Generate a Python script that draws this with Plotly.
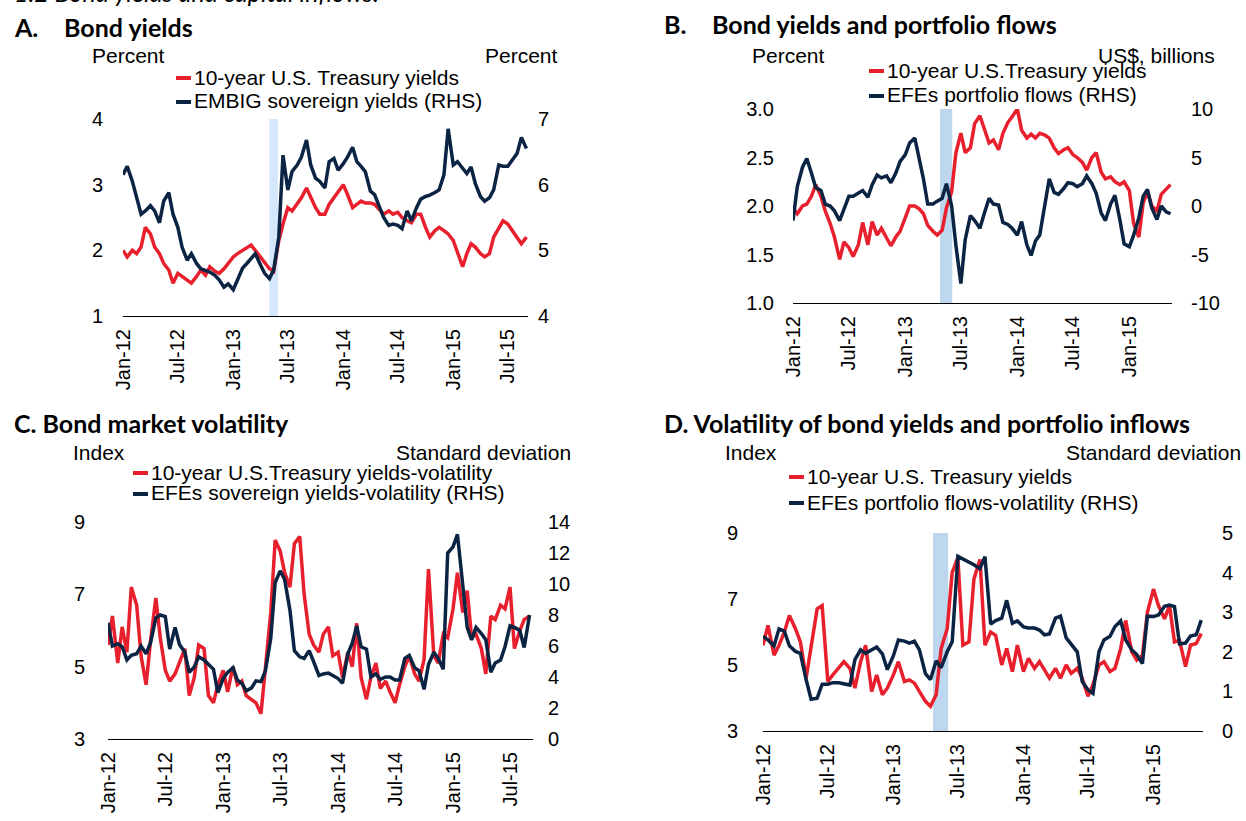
import pandas as pd
import plotly.graph_objects as go

W, H = 1246, 821
RED = "#E8202E"
NAVY = "#0B2443"
FONT = "Arial, 'Liberation Sans', sans-serif"
TITLE_FONT = "Lato, 'Open Sans', sans-serif"

# ---- Panel A: bond yields (semi-monthly) ----
a_ust = [2.0, 1.9, 2.0, 1.95, 2.05, 2.35, 2.25, 2.05, 1.95, 1.8,
         1.7, 1.5, 1.65, 1.6, 1.55, 1.5, 1.6, 1.7, 1.62, 1.75,
         1.68, 1.65, 1.72, 1.8, 1.9, 1.95, 2.0, 2.05, 2.08, 2.0,
         1.9, 1.8, 1.72, 1.68, 2.15, 2.4, 2.65, 2.6, 2.7, 2.8,
         2.95, 2.8, 2.65, 2.55, 2.55, 2.7, 2.8, 2.9, 3.0, 2.85,
         2.65, 2.7, 2.75, 2.72, 2.72, 2.7, 2.62, 2.55, 2.6, 2.55,
         2.58, 2.5, 2.45, 2.42, 2.55, 2.55, 2.35, 2.2, 2.3, 2.35,
         2.3, 2.25, 2.15, 1.95, 1.75, 1.95, 2.1, 2.05, 1.95, 1.9,
         1.95, 2.2, 2.35, 2.45, 2.4, 2.3, 2.2, 2.1, 2.2]
a_embig = [6.15, 6.28, 6.05, 5.8, 5.55, 5.6, 5.68, 5.6, 5.42, 5.75,
           5.88, 5.55, 5.35, 5.05, 4.85, 4.95, 4.8, 4.72, 4.7, 4.67,
           4.62, 4.55, 4.44, 4.49, 4.4, 4.55, 4.73, 4.8, 4.88, 4.95,
           4.78, 4.65, 4.57, 4.7, 5.2, 6.45, 5.92, 6.2, 6.3, 6.42,
           6.68, 6.3, 6.1, 6.05, 5.95, 6.35, 6.4, 6.22, 6.32, 6.42,
           6.57, 6.35, 6.28, 6.2, 5.9, 5.85, 5.66, 5.5, 5.38, 5.4,
           5.38, 5.33, 5.6, 5.45, 5.65, 5.78, 5.82, 5.84, 5.88, 5.92,
           6.15, 6.85, 6.3, 6.35, 6.25, 6.17, 6.27, 6.02, 5.82, 5.75,
           5.8, 5.92, 6.3, 6.28, 6.28, 6.37, 6.48, 6.72, 6.55]

# ---- Panel B: yields and portfolio flows ----
b_ust = [1.98, 1.92, 2.0, 2.02, 2.1, 2.22, 2.1, 1.95, 1.82, 1.68,
         1.45, 1.63, 1.57, 1.48, 1.6, 1.83, 1.6, 1.84, 1.7, 1.77,
         1.67, 1.59, 1.68, 1.74, 1.88, 2.0, 2.0, 1.97, 1.92, 1.8,
         1.74, 1.7, 1.75, 1.98, 2.15, 2.55, 2.75, 2.55, 2.6, 2.85,
         2.93, 2.8, 2.65, 2.68, 2.58, 2.75, 2.86, 2.92, 3.0, 2.78,
         2.7, 2.74, 2.7, 2.75, 2.73, 2.7, 2.6, 2.54, 2.58, 2.6,
         2.53, 2.5, 2.45, 2.37, 2.5, 2.55, 2.35, 2.28, 2.3, 2.25,
         2.22, 2.25, 2.16, 1.82, 1.68, 2.03, 2.15, 2.0, 1.95, 2.12,
         2.17, 2.22]
b_flows = [-1.5, 2.0, 4.0, 4.9, 3.4, 1.9, 1.6, 0.2, 0.0, -0.5,
           -1.5, -0.4, 1.0, 1.0, 1.3, 1.6, 0.9, 2.2, 3.2, 2.9,
           3.1, 2.4, 3.4, 4.6, 5.3, 6.5, 7.0, 5.0, 2.8, 0.2,
           0.2, 0.5, 0.8, 2.3, 0.0, -4.1, -8.0, -3.5, -1.0, -1.5,
           -2.3, -0.8, 0.8, 0.2, 0.1, -1.7, -1.9, -2.3, -3.0, -1.6,
           -4.0, -5.1, -3.6, -3.0, 0.3, 2.8, 1.4, 1.2, 1.8, 2.4,
           2.3, 2.0, 2.3, 3.1, 2.3, 1.3, -0.7, -1.5, 0.2, 1.1,
           -1.4, -3.9, -4.2, -3.0, -1.2, 1.0, 1.7, -0.2, -1.4, 0.0,
           -0.6, -0.8]

# ---- Panel C: bond market volatility ----
c_ust = [5.6, 6.4, 5.1, 6.1, 5.4, 7.2, 6.7, 5.3, 4.5, 5.7,
         6.9, 5.8, 4.9, 4.6, 4.8, 5.1, 5.5, 4.2, 4.7, 5.6,
         5.5, 4.2, 4.0, 4.5, 4.9, 4.3, 5.0, 4.5, 4.6, 4.2,
         4.1, 4.0, 3.7, 5.0, 6.5, 8.5, 8.2, 7.6, 7.2, 8.4,
         8.6, 7.0, 5.9, 5.6, 5.4, 5.9, 6.1, 5.3, 5.4, 4.7,
         5.4, 5.0, 6.2, 4.7, 4.1, 4.7, 5.1, 4.4, 4.6, 4.3,
         4.0, 4.5, 5.0, 5.3, 4.8, 4.6, 5.2, 7.7, 5.3, 5.1,
         5.9, 5.8, 6.6, 7.6, 6.5, 7.1, 5.8, 5.9, 5.5, 4.8,
         6.4, 6.3, 6.7, 6.6, 7.2, 5.5, 6.0, 6.3, 6.4]
c_efe = [7.5, 6.0, 6.15, 5.95, 5.1, 5.4, 5.5, 6.0, 5.5, 6.2,
         7.8, 8.0, 7.9, 5.8, 7.2, 6.1, 5.6, 4.3, 4.65, 5.3,
         5.1, 4.85, 4.5, 3.0, 3.9, 4.3, 4.6, 3.8, 3.6, 3.1,
         3.3, 3.75, 3.7, 4.4, 6.5, 10.1, 10.85, 10.3, 8.3, 5.7,
         5.3, 5.2, 5.7, 5.0, 4.1, 4.2, 4.25, 4.1, 3.9, 3.6,
         5.5, 6.2, 7.3, 5.95, 5.8, 4.0, 4.2, 3.85, 4.0, 4.0,
         3.8, 3.8, 5.2, 5.4, 4.6, 4.4, 3.2, 4.8, 5.6, 5.2,
         4.5, 12.0, 12.4, 13.2, 10.0, 7.2, 6.4, 7.2, 6.8, 6.4,
         4.3, 4.9, 5.1, 5.95, 7.3, 7.2, 7.0, 5.9, 8.0]

# ---- Panel D: volatility of yields and portfolio inflows ----
d_ust = [5.6, 6.2, 5.3, 5.6, 6.0, 6.5, 6.1, 5.7, 4.6, 5.5,
         6.7, 6.8, 4.5, 4.7, 4.9, 5.1, 4.9, 4.3, 5.1, 5.6,
         4.2, 4.7, 4.1, 4.3, 4.7, 5.1, 4.5, 4.55, 4.45, 4.2,
         3.9, 3.75, 4.1, 5.5, 6.1, 7.8, 8.25, 5.6, 5.7, 7.6,
         8.2, 5.6, 6.0, 5.9, 5.0, 5.5, 4.8, 5.6, 4.8, 5.2,
         4.9, 5.1, 4.85, 4.6, 4.9, 4.6, 5.0, 4.75, 4.9, 4.6,
         4.05, 4.4, 5.0, 5.1, 4.8, 4.9, 5.5, 6.35, 5.4, 5.15,
         5.3, 6.6, 7.3, 6.8, 6.4, 6.8, 5.7, 5.75, 4.95, 5.6,
         5.65, 5.95]
d_flows = [2.39, 2.3, 2.15, 2.58, 2.52, 2.15, 2.01, 1.96, 1.3, 0.8,
           0.83, 1.18, 1.18, 1.22, 1.22, 1.2, 1.16, 1.8, 2.05, 1.96,
           2.05, 2.12, 1.95, 1.55, 1.9, 2.3, 2.27, 2.22, 2.27, 2.05,
           1.45, 1.3, 1.77, 1.6, 2.0, 2.25, 4.41, 4.35, 4.28, 4.2,
           4.1, 4.4, 2.7, 2.79, 2.85, 3.3, 2.72, 2.78, 2.63, 2.6,
           2.6, 2.55, 2.43, 2.45, 2.85, 2.9, 2.35, 2.2, 2.0, 1.25,
           1.04, 0.95, 2.0, 2.3, 2.39, 2.64, 2.78, 2.3, 2.05, 1.93,
           1.7, 2.9, 2.89, 2.93, 3.15, 3.18, 3.14, 2.2, 2.22, 2.4,
           2.43, 2.8]


def dates(n):
    return pd.date_range("2012-01-01", periods=n, freq="SMS")


def px(x):
    return x / W


def py(y):
    return 1 - y / H


fig = go.Figure()

panels = [
    dict(xa="x", ya="y", ya2="y2", xdom=(123, 528), ydom=(316, 119),
         xend="2015-09-06", left=(1, 4, 1, None), right=(4, 7, 1, None),
         red=a_ust, navy=a_embig, shade=("2013-05-01", "2013-05-29"),
         shade_col="#D4E7FB", lstand=19, rstand=9),
    dict(xa="x2", ya="y3", ya2="y4", xdom=(793, 1172), ydom=(303, 109),
         xend="2015-05-20", left=(1, 3, 0.5, ".1f"), right=(-10, 10, 5, None),
         red=b_ust, navy=b_flows, shade=("2013-04-24", "2013-06-03"),
         shade_col="#BDD7EE", lstand=18, rstand=18),
    dict(xa="x3", ya="y5", ya2="y6", xdom=(108, 533), ydom=(739, 522),
         xend="2015-09-12", left=(3, 9, 2, None), right=(0, 14, 2, None),
         red=c_ust, navy=c_efe, shade=None, shade_col=None,
         lstand=22, rstand=14),
    dict(xa="x4", ya="y7", ya2="y8", xdom=(763, 1203), ydom=(731, 533),
         xend="2015-05-20", left=(3, 9, 2, None), right=(0, 5, 1, None),
         red=d_ust, navy=d_flows, shade=("2013-04-22", "2013-06-04"),
         shade_col="#BDD7EE", lstand=24, rstand=18),
]

tick_font = dict(family=FONT, size=20, color="#000000")
layout = dict(
    width=W, height=H,
    margin=dict(l=0, r=0, t=0, b=0, autoexpand=False),
    paper_bgcolor="white", plot_bgcolor="white",
    showlegend=False,
)
shapes = []

for p in panels:
    xkey = "xaxis" + p["xa"][1:]
    ykey = "yaxis" + p["ya"][1:]
    y2key = "yaxis" + p["ya2"][1:]
    layout[xkey] = dict(
        type="date", domain=[px(p["xdom"][0]), px(p["xdom"][1])],
        range=["2012-01-01", p["xend"]], anchor=p["ya"],
        tick0="2012-01-01", dtick="M6", tickformat="%b-%y", tickangle=-90,
        showgrid=False, zeroline=False, showline=True, linecolor="#000000",
        linewidth=1, ticks="", tickfont=tick_font, ticklabelstandoff=4,
    )
    lo, hi, step, fmt = p["left"]
    layout[ykey] = dict(
        domain=[py(p["ydom"][0]), py(p["ydom"][1])], anchor=p["xa"],
        range=[lo, hi], dtick=step, tick0=lo, side="left",
        showgrid=False, zeroline=False, showline=False, ticks="",
        tickfont=tick_font, ticklabelstandoff=p["lstand"],
    )
    if fmt:
        layout[ykey]["tickformat"] = fmt
    lo2, hi2, step2, _ = p["right"]
    vals = []
    v = lo2
    while v <= hi2 + 1e-9:
        vals.append(v)
        v += step2
    layout[y2key] = dict(
        overlaying=p["ya"], anchor=p["xa"], side="right",
        range=[lo2, hi2], tickvals=vals, ticktext=[f"{t:g}" for t in vals],
        showgrid=False, zeroline=False, showline=False, ticks="",
        tickfont=tick_font, ticklabelstandoff=p["rstand"],
    )
    if p["shade"]:
        shapes.append(dict(
            type="rect", xref=p["xa"], yref=p["ya"] + " domain",
            x0=p["shade"][0], x1=p["shade"][1], y0=0, y1=1,
            fillcolor=p["shade_col"], line=dict(width=0), layer="below",
        ))
    fig.add_trace(go.Scatter(
        x=dates(len(p["red"])), y=p["red"], mode="lines",
        line=dict(color=RED, width=3.5), xaxis=p["xa"], yaxis=p["ya"],
    ))
    fig.add_trace(go.Scatter(
        x=dates(len(p["navy"])), y=p["navy"], mode="lines",
        line=dict(color=NAVY, width=3.5), xaxis=p["xa"], yaxis=p["ya2"],
    ))

annotations = []


def text(x, y, s, size=21, family=FONT, anchor="left", yanchor="middle"):
    annotations.append(dict(
        x=px(x), y=py(y), xref="paper", yref="paper", text=s,
        showarrow=False, xanchor=anchor, yanchor=yanchor,
        font=dict(family=family, size=size, color="#000000"),
    ))


# figure heading, running off the top edge
text(12, 9, "<i>1.2 Bond yields and capital inflows.</i>", size=25,
     family=TITLE_FONT, yanchor="bottom")

# panel titles
text(12, 27, "<b>A.</b>", size=25, family=TITLE_FONT)
text(62, 27, "<b>Bond yields</b>", size=25, family=TITLE_FONT)
text(662, 24, "<b>B.</b>", size=25, family=TITLE_FONT)
text(710, 24, "<b>Bond yields and portfolio flows</b>", size=25,
     family=TITLE_FONT)
text(12, 423, "<b>C. Bond market volatility</b>", size=25, family=TITLE_FONT)
text(662, 423, "<b>D. Volatility of bond yields and portfolio inflows</b>",
     size=25, family=TITLE_FONT)

# axis unit labels
text(90, 55, "Percent")
text(560, 55, "Percent", anchor="right")
text(750, 55, "Percent")
text(1217, 55, "US$, billions", anchor="right")
text(71, 453, "Index")
text(573, 453, "Standard deviation", anchor="right")
text(723, 453, "Index")
text(1243, 453, "Standard deviation", anchor="right")

# legends: short line swatch followed by label
legend_rows = [
    (176, 77, RED, "10-year U.S. Treasury yields"),
    (176, 101, NAVY, "EMBIG sovereign yields (RHS)"),
    (869, 70, RED, "10-year U.S.Treasury yields"),
    (869, 95, NAVY, "EFEs portfolio flows (RHS)"),
    (133, 472, RED, "10-year U.S.Treasury yields-volatility"),
    (133, 493, NAVY, "EFEs sovereign yields-volatility (RHS)"),
    (789, 476, RED, "10-year U.S. Treasury yields"),
    (789, 502, NAVY, "EFEs portfolio flows-volatility (RHS)"),
]
for x0, y0, col, label in legend_rows:
    shapes.append(dict(
        type="line", xref="paper", yref="paper",
        x0=px(x0), x1=px(x0 + 15), y0=py(y0 + 1), y1=py(y0 + 1),
        line=dict(color=col, width=4),
    ))
    text(x0 + 16, y0, label)

layout["shapes"] = shapes
layout["annotations"] = annotations
fig.update_layout(**layout)
fig.write_html("out.html")
